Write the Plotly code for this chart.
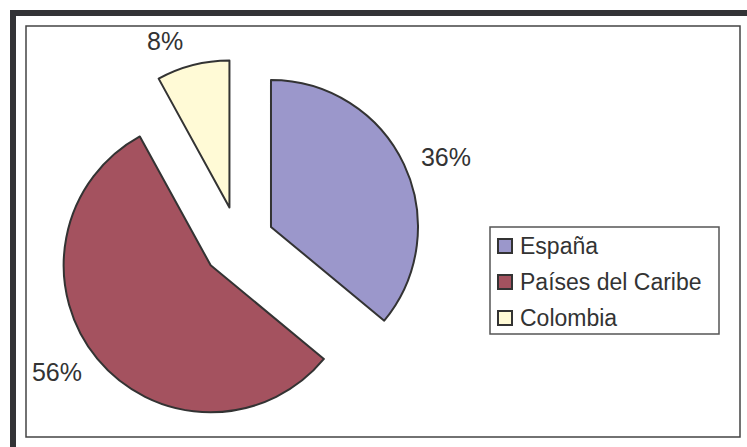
import plotly.graph_objects as go

# Data
categories = ["España", "Países del Caribe", "Colombia"]
values = [36, 56, 8]
colors = ["#9B97CB", "#A4525F", "#FFFAD6"]

W, H = 747, 447
TEXT = "#333333"
FONT = "Liberation Sans, Arial, sans-serif"


def px_x(x):
    return x / W


def px_y(y):
    return 1 - y / H


def domain(cx, cy, size):
    return dict(x=[px_x(cx - size / 2), px_x(cx + size / 2)],
                y=[px_y(cy + size / 2), px_y(cy - size / 2)])


# Pie centre and box size in pixels
cx, cy, box = 238.4, 242.3, 366.0
pull = 0.245
label_box = 388.0

fig = go.Figure()

# exploded slices
fig.add_trace(go.Pie(
    labels=categories,
    values=values,
    sort=False,
    direction="clockwise",
    rotation=0,
    pull=[pull] * len(values),
    marker=dict(colors=colors, line=dict(color="#333333", width=2)),
    textinfo="none",
    domain=domain(cx, cy, box),
    showlegend=False,
    automargin=False,
    hoverinfo="label+percent",
))

# percentage labels set out around the exploded slices
fig.add_trace(go.Pie(
    labels=categories,
    values=values,
    sort=False,
    direction="clockwise",
    rotation=0,
    marker=dict(colors=["rgba(0,0,0,0)"] * len(values),
                line=dict(width=0)),
    texttemplate="%{percent:.0%}",
    textposition="outside",
    outsidetextfont=dict(family=FONT, size=25, color=TEXT),
    domain=domain(cx, cy, label_box),
    showlegend=False,
    automargin=False,
    hoverinfo="skip",
))

shapes = [
    # outer dark frame (left and top edges)
    dict(type="line", xref="paper", yref="paper",
         x0=px_x(13), x1=px_x(13), y0=0, y1=px_y(10),
         line=dict(color="#333336", width=6)),
    dict(type="line", xref="paper", yref="paper",
         x0=px_x(10), x1=1, y0=px_y(13), y1=px_y(13),
         line=dict(color="#333336", width=6)),
    # plot area border
    dict(type="rect", xref="paper", yref="paper",
         x0=px_x(26), x1=px_x(740), y0=px_y(437), y1=px_y(26),
         line=dict(color="#444444", width=1.5)),
    # legend box
    dict(type="rect", xref="paper", yref="paper",
         x0=px_x(490), x1=px_x(719), y0=px_y(334), y1=px_y(227),
         line=dict(color="#555555", width=1.5), fillcolor="white"),
]

annotations = []
row_y = [246, 282, 318]
for name, col, yc in zip(categories, colors, row_y):
    shapes.append(dict(type="rect", xref="paper", yref="paper",
                       x0=px_x(498), x1=px_x(512),
                       y0=px_y(yc + 7), y1=px_y(yc - 7),
                       fillcolor=col, line=dict(color="#333333", width=2)))
    annotations.append(dict(xref="paper", yref="paper",
                            x=px_x(518), y=px_y(yc),
                            xanchor="left", yanchor="middle",
                            text=name, showarrow=False,
                            font=dict(family=FONT, size=23, color=TEXT)))

fig.update_layout(
    width=W, height=H,
    margin=dict(l=0, r=0, t=0, b=0, pad=0, autoexpand=False),
    paper_bgcolor="white",
    plot_bgcolor="white",
    shapes=shapes,
    annotations=annotations,
    font=dict(family=FONT, color=TEXT),
)

fig.write_html("out.html")
